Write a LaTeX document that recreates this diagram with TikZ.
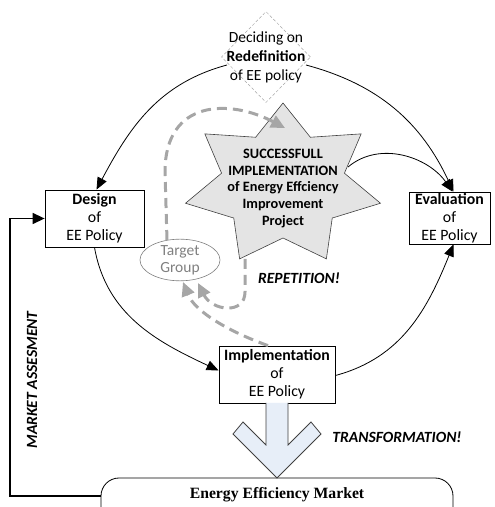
\documentclass[tikz,border=0pt]{standalone}
\usepackage{fontspec}
\setmainfont{Carlito}
\newfontfamily\marketfont{Liberation Serif}
\usetikzlibrary{arrows.meta,shapes.geometric,calc}

\definecolor{dashgray}{HTML}{A6A6A6}
\definecolor{stargray}{HTML}{E4E4E4}
\definecolor{arrowblue}{HTML}{E7EEF8}
\definecolor{edgegray}{HTML}{404040}
\definecolor{tgray}{HTML}{808080}

\begin{document}
\begin{tikzpicture}[x=1pt,y=1pt,
  policybox/.style={draw=black, line width=0.8pt, fill=white, inner sep=0pt,
    align=center, font=\fontsize{15.8}{18}\selectfont},
  flow/.style={line width=0.8pt, -{Triangle[length=12pt,width=10pt]}},
  loopflow/.style={draw=dashgray, line width=3pt, dash pattern=on 10pt off 6pt,
    -{Triangle[length=14pt,width=13pt,fill=dashgray]}},
  shout/.style={font=\fontsize{15.6}{17}\selectfont\bfseries\itshape},
]
\useasboundingbox (0,0) rectangle (495,507);

% decision diamond at the top
\node[diamond, draw=dashgray, densely dashed, line width=0.5pt,
      minimum width=89pt, minimum height=91pt, inner sep=0pt] (dia) at (266,450) {};
\node[align=center, font=\fontsize{15.5}{19}\selectfont] (diatext) at (266,450)
  {Deciding on\\\textbf{Redefinition}\\of EE policy};

% policy cycle boxes
\node[policybox, minimum width=99pt, minimum height=57pt] (des) at (94.5,288.5)
  {\textbf{Design}\\of\\EE Policy};
\node[policybox, minimum width=81pt, minimum height=52pt] (eva) at (449.5,289)
  {\textbf{Evaluation}\\of\\EE Policy};
\node[policybox, minimum width=116pt, minimum height=57pt] (imp) at (277,132.5)
  {\textbf{Implementation}\\of\\EE Policy};

% seven-pointed star
\begin{scope}[shift={(283,322)}]
  \draw[draw=edgegray, fill=stargray, line width=0.6pt]
    (90:100 and 82)
    \foreach \i in {1,3,...,11}{
      -- ({90+\i*180/7}:63 and 53) -- ({90+(\i+1)*180/7}:100 and 82)
    }
    -- ({90+13*180/7}:63 and 53) -- cycle;
\end{scope}
\node[align=center, font=\fontsize{14.3}{16.7}\selectfont\bfseries] (star) at (283,318.5)
  {SUCCESSFULL\\IMPLEMENTATION\\of Energy Effciency\\Improvement\\Project};
\coordinate (starR) at (348,340);

% target group
\node[ellipse, draw=tgray, line width=0.6pt, minimum width=80pt, minimum height=40pt,
      inner sep=0pt, align=center, text=tgray, font=\fontsize{15.5}{17}\selectfont]
  (tg) at (180,247) {Target\\Group};

% market
\draw[line width=0.8pt, rounded corners=18pt] (101,-40) -- (101,29) -- (453,29) -- (453,-40);
\node[font=\marketfont\fontsize{15.7}{17}\selectfont\bfseries] (mkt) at (277,12)
  {Energy Efficiency Market};
\coordinate (mktL) at (101,11);

% transformation block arrow
\draw[draw=edgegray, fill=arrowblue, line width=0.8pt]
  (266,104) -- (266,62) -- (243,85) -- (233,73) -- (277,29) -- (321,73)
  -- (311,85) -- (288,62) -- (288,104);

% cycle connectors
\draw[flow] (227,442) to[out=195, in=62] ($(des.north)+(2,0)$);
\draw[flow] (306,442) to[out=-15, in=115] ($(eva.north)+(4,0)$);
\draw[flow] (starR) to[out=40, in=125] ($(eva.north)+(3,0)$);
\draw[flow] ($(des.south)+(0,0)$) to[out=-80, in=155] ($(imp.west)+(0,4)$);
\draw[flow] ($(imp.east)+(0,-1)$) to[out=15, in=-112] ($(eva.south)+(4,0)$);

% market assessment feedback
\draw[line width=1.4pt, -{Triangle[length=12pt,width=11pt]}]
  (mktL) -- (10,11) -- (10,288.5) -- (des.west);
\node[shout, rotate=90] (ma) at (32,127) {MARKET ASSESMENT};

% repetition loops through the target group
\draw[loopflow] ($(imp.north)+(-9,0)$) .. controls (230,175) and (195,195) .. (183,225);
\draw[loopflow] (245,248) -- (245,215) .. controls (245,192) and (212,196) .. (198,224);
\draw[loopflow] (167,267) -- (165,335) .. controls (165,408) and (230,408) .. (285,379);

\node[shout] (rep) at (299,229) {REPETITION!};
\node[shout] (tra) at (397,70) {TRANSFORMATION!};
\end{tikzpicture}
\end{document}
